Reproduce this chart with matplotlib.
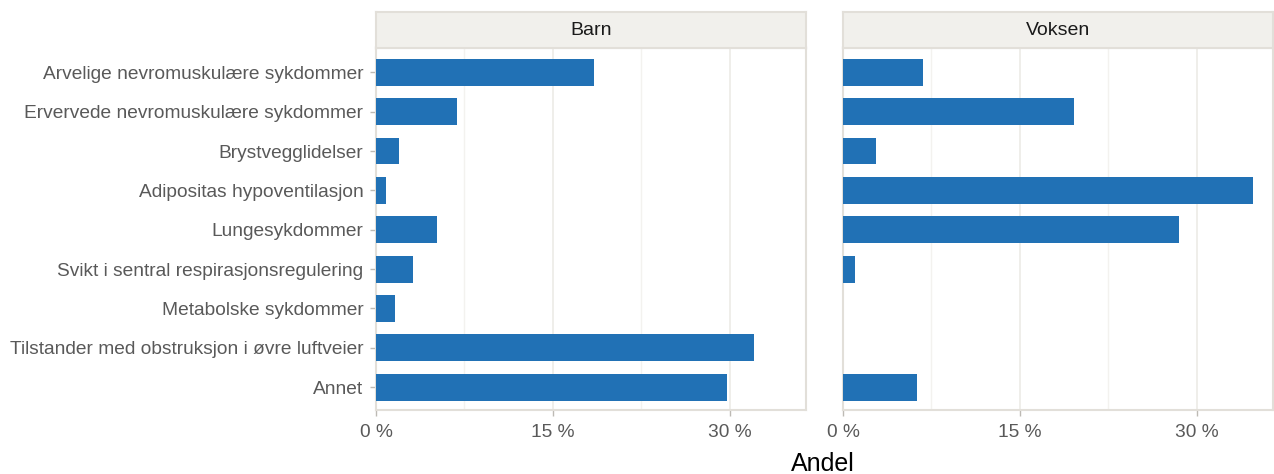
import numpy as np
import matplotlib
matplotlib.use("Agg")
from matplotlib import pyplot as plt
from matplotlib.ticker import FuncFormatter, MultipleLocator

plt.rcParams["font.family"] = ["Liberation Sans", "DejaVu Sans"]

kategorier = [
    "Arvelige nevromuskulære sykdommer",
    "Ervervede nevromuskulære sykdommer",
    "Brystvegglidelser",
    "Adipositas hypoventilasjon",
    "Lungesykdommer",
    "Svikt i sentral respirasjonsregulering",
    "Metabolske sykdommer",
    "Tilstander med obstruksjon i øvre luftveier",
    "Annet",
]
grupper = ["Barn", "Voksen"]
andel_barn = [18.5, 6.9, 1.95, 0.85, 5.2, 3.1, 1.6, 32.1, 29.8]
andel_voksen = [6.8, 19.6, 2.8, 34.8, 28.5, 1.0, 0.0, 0.0, 6.3]

blaa = "#2171b5"
ramme = "#e2dfd9"
stripe = "#f1f0ec"
tekstgraa = "#595959"

fig = plt.figure(figsize=(12.74, 4.74), dpi=100)
posisjoner = [0.2951, 0.6617]
bredde = 0.3372
bunn = 0.135
hoyde = 0.7637

xmax = max(andel_barn + andel_voksen) * 1.047
y = np.arange(len(kategorier))

for i, (navn, verdier) in enumerate(zip(grupper, [andel_barn, andel_voksen])):
    ax = fig.add_axes([posisjoner[i], bunn, bredde, hoyde])
    ax.barh(y, verdier, height=0.68, color=blaa, zorder=3)
    ax.set_xlim(0, xmax)
    ax.set_ylim(len(kategorier) - 0.42, -0.62)
    ax.xaxis.set_major_locator(MultipleLocator(15))
    ax.xaxis.set_minor_locator(MultipleLocator(7.5))
    ax.xaxis.set_major_formatter(FuncFormatter(lambda v, p: f"{v:.0f} %"))
    ax.grid(axis="x", which="major", color="#ebe9e4", lw=1.1, zorder=0)
    ax.grid(axis="x", which="minor", color="#f3f2ef", lw=1.0, zorder=0)
    for s in ax.spines.values():
        s.set_color(ramme)
        s.set_linewidth(1.5)
    ax.tick_params(axis="x", which="major", length=4, width=1, color="#bdbab4",
                   labelsize=13.8, labelcolor=tekstgraa, pad=6)
    ax.tick_params(axis="x", which="minor", length=0)
    if i == 0:
        ax.set_yticks(y)
        ax.set_yticklabels(kategorier)
        ax.tick_params(axis="y", length=4, width=1, color="#bdbab4",
                       labelsize=13.8, labelcolor=tekstgraa, pad=5)
    else:
        ax.set_yticks([])

    # stripe med panelnavn
    sax = fig.add_axes([posisjoner[i], 0.8987, bredde, 0.0760])
    sax.set_facecolor(stripe)
    sax.set_xticks([])
    sax.set_yticks([])
    for s in sax.spines.values():
        s.set_color(ramme)
        s.set_linewidth(1.5)
    sax.text(0.5, 0.5, navn, ha="center", va="center", fontsize=14, color="#1a1a1a",
             transform=sax.transAxes)

fig.text(0.646, 0.0065, "Andel", ha="center", va="baseline", fontsize=18, color="black")

plt.savefig("out.png", dpi=100)
